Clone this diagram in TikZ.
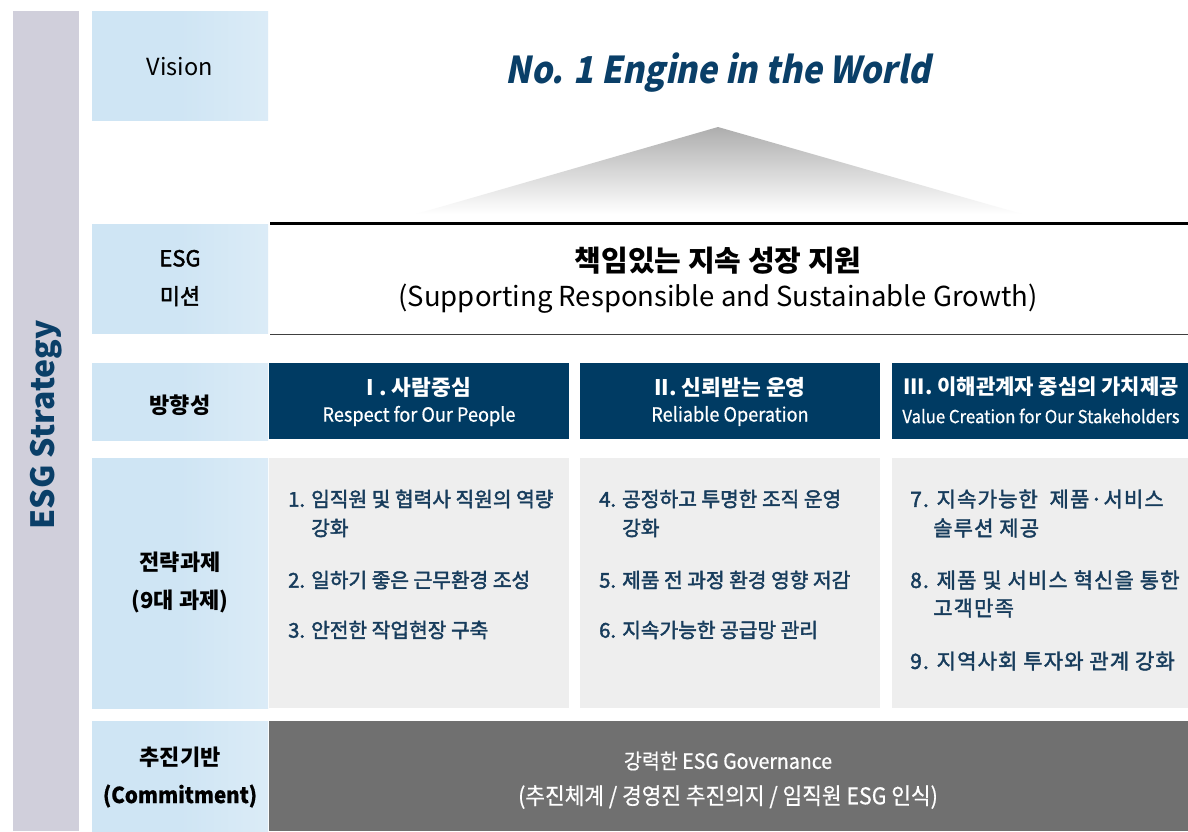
\documentclass[tikz,border=0pt]{standalone}
\usepackage{fontspec}
\setmainfont{Noto Sans CJK KR}
\newfontfamily\ttlfont{Noto Sans CJK KR}[FakeSlant=0.2,FakeStretch=0.9]
\newfontfamily\medfont{Noto Sans CJK KR}[FakeBold=2]
\newfontfamily\medspfont{Noto Sans CJK KR}[FakeBold=2,LetterSpace=5.5]
\newfontfamily\condfont{Noto Sans CJK KR}[FakeStretch=0.93,FakeBold=0.6]
\usetikzlibrary{positioning}
\definecolor{sidebar}{HTML}{D0CFDB}
\definecolor{labblue}{HTML}{CFE5F4}
\definecolor{navy}{HTML}{003B63}
\definecolor{txtnavy}{HTML}{173C5C}
\definecolor{strat}{HTML}{EEEEEE}
\definecolor{commit}{HTML}{707070}
\definecolor{ttlblue}{HTML}{0A3F68}
\pgfdeclarehorizontalshading{labfade}{100bp}{color(0bp)=(labblue); color(50bp)=(labblue); color(80bp)=(labblue!70!white); color(100bp)=(white)}
\tikzset{
  labbox/.style={shading=labfade, draw=none},
  labtxt/.style={font=\medfont\fontsize{22}{25}\selectfont, text=black, align=center},
  navybox/.style={fill=navy, draw=none},
  navytitle/.style={font=\bfseries\fontsize{21.5}{23}\selectfont, text=white},
  navysub/.style={font=\condfont\fontsize{19.5}{21}\selectfont, text=white},
  stratbox/.style={fill=strat, draw=none},
  item/.style={anchor=west, font=\medfont\fontsize{20.3}{23}\selectfont, text=txtnavy, inner sep=0pt},
  itemc/.style={item, font=\medspfont\fontsize{21}{23}\selectfont},
  comtxt/.style={font=\condfont\fontsize{21}{23}\selectfont, text=white},
}
\begin{document}
\begin{tikzpicture}[x=1pt,y=-1pt]
\useasboundingbox (0,0) rectangle (1188,831);
\fill[white] (0,0) rectangle (1188,831);
% side bar
\fill[sidebar] (13,11) rectangle (79,831);
\node[rotate=90, font=\bfseries\fontsize{32}{33}\selectfont, text=ttlblue] (side) at (46,425) {ESG Strategy};
% label column
\path[labbox] (92,11) rectangle (268,120);
\path[labbox] (92,224) rectangle (268,333);
\path[labbox] (92,363) rectangle (268,440);
\path[labbox] (92,458) rectangle (268,708);
\path[labbox] (92,721) rectangle (268,831);
\node[labtxt, font=\fontsize{23.5}{25}\selectfont] (lvision) at (180,67) {Vision};
\node[labtxt, font=\medfont\fontsize{22}{38}\selectfont] (lmission) at (180,278) {ESG\\미션};
\node[labtxt, font=\bfseries\fontsize{22}{25}\selectfont] (ldir) at (180,405) {방향성};
\node[labtxt, font=\bfseries\fontsize{22}{38}\selectfont] (lstrat) at (180,582) {전략과제\\(9대 과제)};
\node[labtxt, font=\bfseries\fontsize{22}{38}\selectfont] (lcommit) at (180,777) {추진기반\\{\condfont\fontsize{22}{38}\selectfont (Commitment)}};
% vision
\node[font=\ttlfont\bfseries\fontsize{37}{40}\selectfont, text=ttlblue] (vision) at (718,73) {No. 1 Engine in the World};
\shade[top color=black!32, bottom color=white] (718,127) -- (1022,214) -- (416,214) -- cycle;
% mission
\coordinate (ta) at (270,223);
\coordinate (tb) at (1188,223);
\draw[line width=3pt, black] (ta) -- (tb);
\coordinate (ba) at (270,334);
\coordinate (bb) at (1188,334);
\draw[line width=1pt, black!75] (ba) -- (bb);
\node[font=\bfseries\fontsize{29}{30}\selectfont, text=black] (mis1) at (718,261) {책임있는 지속 성장 지원};
\node[font=\fontsize{27.5}{30}\selectfont, text=black] (mis2) at (718,299) {(Supporting Responsible and Sustainable Growth)};
% direction boxes
\fill[navybox] (269,363) rectangle (569,439);
\fill[navybox] (580,363) rectangle (880,439);
\fill[navybox] (892,363) rectangle (1188,439);
\node[navytitle] (d1t) at (419,387) {I . 사람중심};
\node[navysub] (d1s) at (419,416) {Respect for Our People};
\node[navytitle] (d2t) at (730,387) {II. 신뢰받는 운영};
\node[navysub] (d2s) at (730,416) {Reliable Operation};
\node[navytitle, font=\bfseries\fontsize{21}{23}\selectfont] (d3t) at (1041,387) {III. 이해관계자 중심의 가치제공};
\node[navysub, font=\condfont\fontsize{18}{20}\selectfont] (d3s) at (1041,416) {Value Creation for Our Stakeholders};
% strategy boxes
\fill[stratbox] (269,458) rectangle (569,708);
\fill[stratbox] (580,458) rectangle (880,708);
\fill[stratbox] (892,458) rectangle (1188,708);
\node[item] (i1) at (288,499) {1. 임직원 및 협력사 직원의 역량};
\node[item] (i1b) at (311,528) {강화};
\node[item] (i2) at (288,580) {2. 일하기 좋은 근무환경 조성};
\node[item] (i3) at (288,630) {3. 안전한 작업현장 구축};
\node[item] (i4) at (599,499) {4. 공정하고 투명한 조직 운영};
\node[item] (i4b) at (622,528) {강화};
\node[item] (i5) at (599,580) {5. 제품 전 과정 환경 영향 저감};
\node[item] (i6) at (599,630) {6. 지속가능한 공급망 관리};
\node[itemc] (i7) at (910,499) {7. 지속가능한~ 제품·서비스};
\node[itemc] (i7b) at (933,528) {솔루션 제공};
\node[itemc] (i8) at (910,580) {8. 제품 및 서비스 혁신을 통한};
\node[itemc] (i8b) at (933,608) {고객만족};
\node[itemc] (i9) at (910,661) {9. 지역사회 투자와 관계 강화};
% commitment
\fill[commit] (269,721) rectangle (1188,831);
\node[comtxt] (c1) at (728,761) {강력한 ESG Governance};
\node[comtxt, font=\condfont\fontsize{23}{25}\selectfont] (c2) at (728,797) {(추진체계 / 경영진 추진의지 / 임직원 ESG 인식)};
\end{tikzpicture}
\end{document}
